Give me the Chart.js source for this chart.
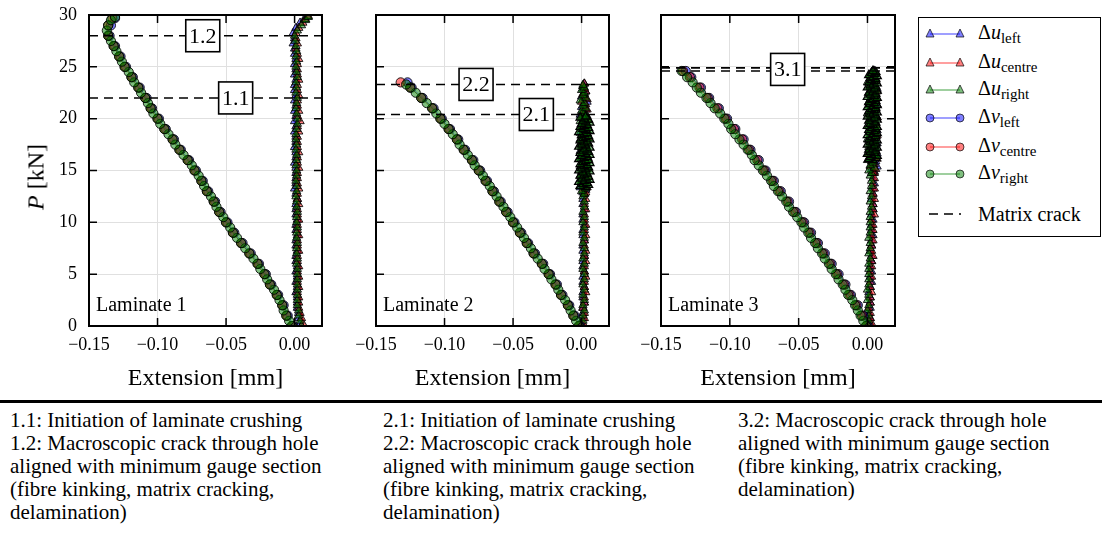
<!DOCTYPE html>
<html>
<head>
<meta charset="utf-8">
<script src="https://cdn.jsdelivr.net/npm/chart.js@4.4.0/dist/chart.umd.min.js"></script>
<style>
    body { margin: 0; background: #fff; width: 1102px; height: 535px; position: relative; overflow: hidden; font-family: 'Liberation Serif', 'DejaVu Serif', serif; color: #000; }
    .panel { position: absolute; top: 0; }
    #ylabel { position: absolute; left: 36px; top: 177px; transform: translate(-50%, -50%) rotate(-90deg); font-size: 24px; white-space: nowrap; }
    #legend { position: absolute; left: 918px; top: 17px; width: 181px; height: 218px; border: 1.5px solid #000; background: #fff; }
    #legend .row { position: absolute; left: 6px; height: 20px; display: flex; align-items: center; }
    #legend .row span { position: absolute; left: 53px; font-size: 20px; white-space: nowrap; }
    #legend sub { font-size: 15px; vertical-align: -4px; }
    #rule { position: absolute; left: 0; top: 400px; width: 1102px; height: 3px; background: #000; }
    .cap { position: absolute; top: 409px; font-size: 21px; line-height: 23px; white-space: nowrap; }
</style>
</head>
<body>
<canvas id="chart1" class="panel" width="330" height="400" style="left:0px"></canvas>
<canvas id="chart2" class="panel" width="280" height="400" style="left:340px"></canvas>
<canvas id="chart3" class="panel" width="280" height="400" style="left:625px"></canvas>
<div id="ylabel"><i>P</i> [kN]</div>
<div id="legend"></div>
<div id="rule"></div>
<div class="cap" style="left:10px">1.1: Initiation of laminate crushing<br>1.2: Macroscopic crack through hole<br>aligned with minimum gauge section<br>(fibre kinking, matrix cracking,<br>delamination)</div>
<div class="cap" style="left:383px">2.1: Initiation of laminate crushing<br>2.2: Macroscopic crack through hole<br>aligned with minimum gauge section<br>(fibre kinking, matrix cracking,<br>delamination)</div>
<div class="cap" style="left:738px">3.2: Macroscopic crack through hole<br>aligned with minimum gauge section<br>(fibre kinking, matrix cracking,<br>delamination)</div>

<script>
// Axis settings and tick labels
const X_MIN = -0.15;
const X_MAX = 0.02;
const Y_MIN = 0;
const Y_MAX = 30;
const xTicks = [-0.15, -0.10, -0.05, 0.00];
const yTicks = [0, 5, 10, 15, 20, 25, 30];

// ---- Laminate 1 ----
// load steps [kN]
const loads1 = [0, 0.5, 1, 1.5, 2, 2.5, 3, 3.5, 4, 4.5, 5, 5.5, 6, 6.5, 7, 7.5, 8, 8.5, 9, 9.5,
    10, 10.5, 11, 11.5, 12, 12.5, 13, 13.5, 14, 14.5, 15, 15.5, 16, 16.5, 17, 17.5, 18, 18.5, 19, 19.5,
    20, 20.5, 21, 21.5, 22, 22.5, 23, 23.5, 24, 24.5, 25, 25.5, 26, 26.5, 27, 27.5, 28, 28.5, 29, 29.5, 29.8];
const loads1B = [0.25, 0.75, 1.25, 1.75, 2.25, 2.75, 3.25, 3.75, 4.25, 4.75, 5.25, 5.75, 6.25, 6.75, 7.25, 7.75,
    8.25, 8.75, 9.25, 9.75, 10.25, 10.75, 11.25, 11.75, 12.25, 12.75, 13.25, 13.75, 14.25, 14.75, 15.25, 15.75,
    16.25, 16.75, 17.25, 17.75, 18.25, 18.75, 19.25, 19.75, 20.25, 20.75, 21.25, 21.75, 22.25, 22.75, 23.25, 23.75,
    24.25, 24.75, 25.25, 25.75, 26.25, 26.75, 27.25, 27.75, 28.25, 28.75, 29.25, 29.6, 29.9];
const loads1Coarse = [0, 1, 2, 3, 4, 5, 6, 7, 8, 9, 10, 11, 12, 13, 14, 15, 16, 17, 18, 19, 20,
    21, 22, 23, 24, 25, 26, 27, 28, 29, 29.7];
// extensions [mm]; uLeft/uCentre use loads1B, uRight uses loads1
const lam1ULeft = [0.004, 0.003, 0.003, 0.002, 0.002, 0.002, 0.001, 0.002, 0.001, 0.002,
    0.001, 0.002, 0.001, 0.001, 0.002, 0.001, 0.001, 0.002, 0.001, 0.001,
    0.002, 0.001, 0.001, 0.001, 0.002, 0.001, 0.000, 0.001, 0.001, 0.001,
    0.001, 0.000, 0.001, 0.001, 0.000, 0.001, 0.001, 0.000, 0.001, 0.000,
    0.001, 0.000, 0.001, 0.000, 0.001, 0.000, 0.000, 0.001, 0.000, 0.001,
    0.000, 0.001, 0.000, 0.000, -0.001, 0.000, -0.001, 0.001, 0.004, 0.007, 0.009];
const lam1UCentre = [0.006, 0.005, 0.004, 0.003, 0.003, 0.003, 0.002, 0.003, 0.002, 0.003,
    0.002, 0.003, 0.002, 0.002, 0.003, 0.002, 0.002, 0.003, 0.002, 0.002,
    0.003, 0.002, 0.002, 0.003, 0.002, 0.002, 0.003, 0.002, 0.002, 0.002,
    0.003, 0.002, 0.002, 0.003, 0.002, 0.002, 0.002, 0.003, 0.002, 0.004,
    0.002, 0.003, 0.002, 0.002, 0.003, 0.002, 0.002, 0.003, 0.002, 0.002,
    0.002, 0.003, 0.002, 0.001, 0.002, 0.001, 0.001, 0.003, 0.006, 0.008, 0.010];
const lam1URight = [0.005, 0.004, 0.003, 0.003, 0.002, 0.002, 0.002, 0.002, 0.002, 0.002,
    0.002, 0.002, 0.0015, 0.002, 0.0015, 0.0015, 0.002, 0.0015, 0.0015, 0.002,
    0.0015, 0.0015, 0.002, 0.0015, 0.0015, 0.001, 0.0015, 0.0015, 0.001, 0.0015,
    0.0015, 0.001, 0.0015, 0.0015, 0.001, 0.0015, 0.001, 0.001, 0.0015, 0.002,
    0.002, 0.0015, 0.001, 0.0015, 0.002, 0.001, 0.0015, 0.001, 0.002, 0.0015,
    0.001, 0.0015, 0.001, 0.0015, 0.001, 0.0005, 0.0, 0.002, 0.005, 0.008, 0.010];
// v series: left/centre use loads1Coarse, right uses loads1
const lam1VLeft = [-0.001, -0.005, -0.008, -0.012, -0.017, -0.021, -0.026, -0.032, -0.038, -0.044, -0.049, -0.054, -0.058, -0.063,
    -0.067, -0.072, -0.077, -0.083, -0.088, -0.094, -0.099, -0.104, -0.108, -0.113, -0.118, -0.123, -0.127, -0.131, -0.135, -0.134, -0.131];
const lam1VCentre = [-0.002, -0.006, -0.009, -0.013, -0.018, -0.022, -0.027, -0.033, -0.039, -0.045, -0.050, -0.055, -0.059, -0.064,
    -0.068, -0.073, -0.078, -0.084, -0.089, -0.095, -0.100, -0.105, -0.109, -0.114, -0.119, -0.124, -0.128, -0.132, -0.136, -0.136, -0.133];
const lam1VRight = [-0.002, -0.004, -0.006, -0.008, -0.009, -0.011, -0.013, -0.015, -0.018, -0.020,
    -0.022, -0.025, -0.027, -0.030, -0.033, -0.036, -0.039, -0.042, -0.045, -0.047,
    -0.050, -0.052, -0.055, -0.057, -0.059, -0.061, -0.064, -0.066, -0.068, -0.070,
    -0.073, -0.075, -0.078, -0.081, -0.084, -0.087, -0.089, -0.092, -0.095, -0.098,
    -0.100, -0.103, -0.105, -0.107, -0.109, -0.112, -0.114, -0.117, -0.119, -0.121,
    -0.124, -0.126, -0.128, -0.130, -0.132, -0.134, -0.136, -0.137, -0.136, -0.134, -0.131];
const lam1Cracks = [22, 28];
const lam1BoxLabels = ['1.1', '1.2'];
const lam1BoxX = [-0.043, -0.067];

// ---- Laminate 2 ----
const loads2U = [0, 0.5, 1, 1.5, 2, 2.5, 3, 3.5, 4, 4.5, 5, 5.5, 6, 6.5, 7, 7.5, 8, 8.5, 9, 9.5,
    10, 10.5, 11, 11.5, 12, 12.5, 12.75, 13, 13.25, 13.5, 13.75, 14, 14.25, 14.5, 14.75, 15, 15.25, 15.5, 15.75,
    16, 16.25, 16.5, 16.75, 17, 17.25, 17.5, 17.75, 18, 18.25, 18.5, 18.75, 19, 19.25, 19.5, 19.75,
    20, 20.25, 20.5, 20.75, 21, 21.25, 21.5, 21.75, 22, 22.25, 22.5, 22.75, 23, 23.25];
const loads2UB = [0.25, 0.75, 1.25, 1.75, 2.25, 2.75, 3.25, 3.75, 4.25, 4.75, 5.25, 5.75, 6.25, 6.75, 7.25, 7.75,
    8.25, 8.75, 9.25, 9.75, 10.25, 10.75, 11.25, 11.75, 12.25, 12.75,
    12.875, 13.125, 13.375, 13.625, 13.875, 14.125, 14.375, 14.625, 14.875, 15.125, 15.375, 15.625, 15.875,
    16.125, 16.375, 16.625, 16.875, 17.125, 17.375, 17.625, 17.875, 18.125, 18.375, 18.625, 18.875,
    19.125, 19.375, 19.625, 19.875, 20.125, 20.375, 20.625, 20.875, 21.125, 21.375, 21.625, 21.875,
    22.125, 22.375, 22.625, 22.875, 23.125, 23.375];
// extra readings while the load hovered between ~13 and ~20 kN
const loads2Plateau = [13.4, 13.5, 13.6, 13.7, 13.8, 13.9, 14.0, 14.1, 14.2, 14.3, 14.4, 14.5, 14.6, 14.7, 14.8, 14.9,
    15.0, 15.1, 15.2, 15.3, 15.4, 15.5, 15.6, 15.7, 15.8, 15.9, 16.0, 16.1, 16.2, 16.3, 16.4, 16.5, 16.6, 16.7, 16.8, 16.9,
    17.0, 17.1, 17.2, 17.3, 17.4, 17.5, 17.6, 17.7, 17.8, 17.9, 18.0, 18.1, 18.2, 18.3, 18.4, 18.5, 18.6, 18.7, 18.8, 18.9,
    19.0, 19.1, 19.2, 19.3, 19.4, 19.5, 19.6, 19.7, 19.8, 19.9, 20.0, 20.1, 20.2];
const loads2 = [0, 0.5, 1, 1.5, 2, 2.5, 3, 3.5, 4, 4.5, 5, 5.5, 6, 6.5, 7, 7.5, 8, 8.5, 9, 9.5,
    10, 10.5, 11, 11.5, 12, 12.5, 13, 13.5, 14, 14.5, 15, 15.5, 16, 16.5, 17, 17.5, 18, 18.5, 19, 19.5,
    20, 20.5, 21, 21.5, 22, 22.5, 23, 23.3];
const loads2Coarse = [0, 1, 2, 3, 4, 5, 6, 7, 8, 9, 10, 11, 12, 13, 14, 15, 16, 17, 18, 19, 20, 21, 22, 23, 23.5];
const lam2ULeft = [0.000, 0.001, 0.001, 0.001, 0.002, 0.001, 0.001, 0.002, 0.001, 0.001, 0.002, 0.001, 0.001,
    0.002, 0.001, 0.001, 0.002, 0.001, 0.001, 0.002, 0.001, 0.001, 0.002, 0.001, 0.001, 0.002,
    0.001, 0.003, -0.001, 0.002, 0.000, 0.004, 0.001, 0.003, 0.000, 0.002,
    -0.001, 0.003, 0.001, 0.000, 0.004, 0.002, -0.001, 0.001, 0.003, 0.000,
    0.002, 0.004, 0.001, -0.001, 0.002, 0.003, 0.000, 0.001, 0.004, 0.002,
    -0.001, 0.001, 0.003, 0.000, 0.002, 0.004, 0.001, 0.000, 0.002, 0.003,
    0.001, 0.001, 0.002];
const lam2UCentre = [0.001, 0.002, 0.002, 0.001, 0.002, 0.002, 0.003, 0.002, 0.002, 0.003, 0.002, 0.002, 0.003,
    0.002, 0.003, 0.002, 0.002, 0.003, 0.002, 0.003, 0.002, 0.002, 0.003, 0.002, 0.003, 0.002,
    0.003, 0.001, 0.004, 0.002, 0.000, 0.003, 0.005, 0.001, 0.002, 0.004,
    0.000, 0.003, 0.002, 0.005, 0.001, 0.003, 0.000, 0.004, 0.002, 0.001,
    0.003, 0.005, 0.000, 0.002, 0.004, 0.001, 0.003, 0.002, 0.005, 0.000,
    0.003, 0.001, 0.004, 0.002, 0.003, 0.000, 0.004, 0.002, 0.001, 0.003,
    0.002, 0.001, 0.002];
const lam2URight = [0.000, 0.001, 0.001, 0.002, 0.001, 0.002, 0.001, 0.002, 0.001, 0.002, 0.002, 0.001, 0.002,
    0.001, 0.002, 0.002, 0.001, 0.002, 0.001, 0.002, 0.001, 0.002, 0.001, 0.002, 0.002, 0.001,
    0.002, 0.000, 0.003, 0.001, 0.004, 0.000, 0.002, -0.001, 0.003, 0.001,
    0.004, 0.000, 0.002, 0.003, -0.001, 0.001, 0.004, 0.002, 0.000, 0.003,
    0.001, -0.001, 0.002, 0.004, 0.001, 0.000, 0.003, 0.002, -0.001, 0.001,
    0.004, 0.002, 0.000, 0.003, 0.001, 0.002, -0.001, 0.003, 0.001, 0.002,
    0.000, 0.002, 0.001];
const lam2UPlateau = [0.003, -0.001, 0.005, 0.001, 0.004, -0.002, 0.002, 0.006, 0.000, 0.003,
    0.005, -0.001, 0.002, 0.004, 0.001, 0.006, -0.002, 0.003, 0.000, 0.005,
    0.002, 0.004, -0.001, 0.006, 0.001, 0.003, 0.005, -0.002, 0.002, 0.004,
    0.000, 0.006, 0.003, -0.001, 0.005, 0.001, 0.004, 0.002, 0.006, -0.002,
    0.003, 0.000, 0.005, 0.002, 0.004, -0.001, 0.006, 0.001, 0.003, 0.005,
    0.000, 0.002, 0.004, -0.002, 0.006, 0.003, 0.001, 0.005, -0.001, 0.002,
    0.004, 0.000, 0.006, 0.003, 0.001, 0.005, 0.002, -0.001, 0.003];
const lam2VLeft = [-0.001, -0.005, -0.009, -0.014, -0.018, -0.023, -0.028, -0.034, -0.039, -0.044, -0.049, -0.054, -0.059,
    -0.064, -0.069, -0.074, -0.079, -0.085, -0.090, -0.096, -0.102, -0.108, -0.116, -0.124, -0.127];
const lam2VCentre = [-0.002, -0.006, -0.010, -0.015, -0.019, -0.024, -0.029, -0.035, -0.040, -0.045, -0.050, -0.055, -0.060,
    -0.065, -0.070, -0.075, -0.080, -0.086, -0.091, -0.097, -0.103, -0.109, -0.117, -0.125, -0.132];
const lam2VRight = [-0.002, -0.004, -0.006, -0.008, -0.010, -0.012, -0.015, -0.017, -0.019, -0.022,
    -0.024, -0.027, -0.029, -0.032, -0.035, -0.037, -0.040, -0.042, -0.045, -0.047,
    -0.050, -0.052, -0.055, -0.057, -0.060, -0.062, -0.065, -0.067, -0.070, -0.072,
    -0.075, -0.078, -0.080, -0.083, -0.086, -0.089, -0.091, -0.094, -0.097, -0.100,
    -0.103, -0.106, -0.109, -0.113, -0.117, -0.121, -0.125, -0.128];
const lam2Cracks = [20.4, 23.3];
const lam2BoxLabels = ['2.1', '2.2'];
const lam2BoxX = [-0.033, -0.077];

// ---- Laminate 3 ----
const loads3U = [0, 0.5, 1, 1.5, 2, 2.5, 3, 3.5, 4, 4.5, 5, 5.5, 6, 6.5, 7, 7.5, 8, 8.5, 9, 9.5,
    10, 10.5, 11, 11.5, 12, 12.5, 13, 13.5, 14, 14.5, 14.75, 15, 15.25, 15.5, 15.75,
    16, 16.25, 16.5, 16.75, 17, 17.25, 17.5, 17.75, 18, 18.25, 18.5, 18.75, 19, 19.25, 19.5, 19.75,
    20, 20.25, 20.5, 20.75, 21, 21.25, 21.5, 21.75, 22, 22.25, 22.5, 22.75, 23, 23.25, 23.5, 23.75, 24, 24.25, 24.5];
const loads3UB = [0.25, 0.75, 1.25, 1.75, 2.25, 2.75, 3.25, 3.75, 4.25, 4.75, 5.25, 5.75, 6.25, 6.75, 7.25, 7.75,
    8.25, 8.75, 9.25, 9.75, 10.25, 10.75, 11.25, 11.75, 12.25, 12.75, 13.25, 13.75, 14.25, 14.75,
    14.875, 15.125, 15.375, 15.625, 15.875, 16.125, 16.375, 16.625, 16.875, 17.125, 17.375, 17.625, 17.875,
    18.125, 18.375, 18.625, 18.875, 19.125, 19.375, 19.625, 19.875, 20.125, 20.375, 20.625, 20.875,
    21.125, 21.375, 21.625, 21.875, 22.125, 22.375, 22.625, 22.875, 23.125, 23.375, 23.625, 23.875,
    24.125, 24.375, 24.625];
// extra readings while the load hovered between ~16 and ~24.6 kN
const loads3Plateau = [16.0, 16.1, 16.2, 16.3, 16.4, 16.5, 16.6, 16.7, 16.8, 16.9, 17.0, 17.1, 17.2, 17.3, 17.4, 17.5,
    17.6, 17.7, 17.8, 17.9, 18.0, 18.1, 18.2, 18.3, 18.4, 18.5, 18.6, 18.7, 18.8, 18.9, 19.0, 19.1, 19.2, 19.3, 19.4, 19.5,
    19.6, 19.7, 19.8, 19.9, 20.0, 20.1, 20.2, 20.3, 20.4, 20.5, 20.6, 20.7, 20.8, 20.9, 21.0, 21.1, 21.2, 21.3, 21.4, 21.5,
    21.6, 21.7, 21.8, 21.9, 22.0, 22.1, 22.2, 22.3, 22.4, 22.5, 22.6, 22.7, 22.8, 22.9, 23.0, 23.1, 23.2, 23.3, 23.4, 23.5,
    23.6, 23.7, 23.8, 23.9, 24.0, 24.1, 24.2, 24.3, 24.4, 24.5, 24.6];
const loads3 = [0, 0.5, 1, 1.5, 2, 2.5, 3, 3.5, 4, 4.5, 5, 5.5, 6, 6.5, 7, 7.5, 8, 8.5, 9, 9.5,
    10, 10.5, 11, 11.5, 12, 12.5, 13, 13.5, 14, 14.5, 15, 15.5, 16, 16.5, 17, 17.5, 18, 18.5, 19, 19.5,
    20, 20.5, 21, 21.5, 22, 22.5, 23, 23.5, 24, 24.6];
const loads3Coarse = [0, 1, 2, 3, 4, 5, 6, 7, 8, 9, 10, 11, 12, 13, 14, 15, 16, 17, 18, 19, 20, 21, 22, 23, 24, 24.6];
const lam3ULeft = [0.002, 0.002, 0.001, 0.002, 0.002, 0.002, 0.001, 0.002, 0.003, 0.002,
    0.003, 0.002, 0.003, 0.003, 0.002, 0.003, 0.003, 0.004, 0.003, 0.003,
    0.004, 0.003, 0.004, 0.004, 0.003, 0.004, 0.004, 0.005, 0.004, 0.004,
    0.005, 0.003, 0.007, 0.004, 0.006, 0.002, 0.005, 0.007, 0.003, 0.006,
    0.004, 0.007, 0.005, 0.002, 0.006, 0.004, 0.007, 0.003, 0.005, 0.006,
    0.002, 0.007, 0.004, 0.005, 0.003, 0.006, 0.007, 0.004, 0.002, 0.005,
    0.006, 0.003, 0.007, 0.004, 0.005, 0.002, 0.006, 0.004, 0.006, 0.005];
const lam3UCentre = [0.003, 0.002, 0.002, 0.001, 0.002, 0.002, 0.003, 0.002, 0.002, 0.003,
    0.002, 0.003, 0.003, 0.004, 0.003, 0.003, 0.004, 0.003, 0.004, 0.004,
    0.003, 0.005, 0.004, 0.004, 0.005, 0.004, 0.005, 0.004, 0.005, 0.005,
    0.004, 0.006, 0.002, 0.005, 0.003, 0.007, 0.004, 0.001, 0.006, 0.005,
    0.003, 0.006, 0.002, 0.005, 0.007, 0.004, 0.001, 0.005, 0.006, 0.003,
    0.004, 0.007, 0.002, 0.005, 0.006, 0.003, 0.004, 0.001, 0.006, 0.005,
    0.003, 0.007, 0.004, 0.002, 0.005, 0.006, 0.003, 0.004, 0.005, 0.004];
const lam3URight = [0.002, 0.001, 0.001, 0.000, 0.001, 0.000, 0.001, 0.000, 0.001, 0.001,
    0.001, 0.001, 0.001, 0.002, 0.001, 0.002, 0.002, 0.001, 0.002, 0.002,
    0.002, 0.002, 0.002, 0.003, 0.002, 0.003, 0.002, 0.003, 0.003, 0.002,
    0.003, 0.001, 0.005, 0.002, 0.004, 0.000, 0.003, 0.006, 0.002, 0.004,
    0.001, 0.005, 0.003, 0.000, 0.004, 0.006, 0.002, 0.003, 0.001, 0.005,
    0.004, 0.002, 0.006, 0.000, 0.003, 0.005, 0.001, 0.004, 0.002, 0.006,
    0.003, 0.001, 0.005, 0.002, 0.004, 0.000, 0.003, 0.005, 0.002, 0.003];
const lam3UPlateau = [0.004, 0.001, 0.006, 0.002, 0.007, 0.003, 0.000, 0.005, 0.002, 0.006,
    0.001, 0.004, 0.007, 0.003, 0.005, 0.000, 0.006, 0.002, 0.004, 0.007,
    0.001, 0.005, 0.003, 0.006, 0.000, 0.004, 0.007, 0.002, 0.005, 0.001,
    0.006, 0.003, 0.007, 0.000, 0.004, 0.002, 0.006, 0.005, 0.001, 0.007,
    0.003, 0.005, 0.000, 0.006, 0.002, 0.004, 0.007, 0.001, 0.005, 0.003,
    0.006, 0.000, 0.004, 0.007, 0.002, 0.005, 0.001, 0.006, 0.003, 0.004,
    0.007, 0.000, 0.005, 0.002, 0.006, 0.001, 0.004, 0.007, 0.003, 0.005,
    0.000, 0.006, 0.002, 0.004, 0.007, 0.001, 0.005, 0.003, 0.006, 0.002,
    0.004, 0.007, 0.001, 0.005, 0.003, 0.006, 0.004];
const lam3VLeft = [0.000, -0.003, -0.007, -0.012, -0.016, -0.021, -0.026, -0.031, -0.036, -0.041, -0.046, -0.052, -0.057,
    -0.063, -0.068, -0.074, -0.079, -0.085, -0.090, -0.096, -0.102, -0.108, -0.115, -0.121, -0.128, -0.132];
const lam3VCentre = [-0.001, -0.004, -0.008, -0.013, -0.017, -0.022, -0.027, -0.032, -0.037, -0.042, -0.047, -0.053, -0.058,
    -0.064, -0.069, -0.075, -0.080, -0.086, -0.091, -0.097, -0.103, -0.109, -0.116, -0.122, -0.129, -0.134];
const lam3VRight = [-0.001, -0.003, -0.005, -0.007, -0.009, -0.011, -0.014, -0.016, -0.018, -0.021,
    -0.023, -0.026, -0.028, -0.031, -0.033, -0.036, -0.038, -0.041, -0.043, -0.046,
    -0.048, -0.051, -0.054, -0.057, -0.059, -0.062, -0.065, -0.068, -0.070, -0.073,
    -0.076, -0.079, -0.082, -0.084, -0.087, -0.090, -0.093, -0.096, -0.099, -0.101,
    -0.104, -0.107, -0.111, -0.114, -0.117, -0.121, -0.124, -0.127, -0.131, -0.135];
const lam3Cracks = [24.6, 24.9];
const lam3BoxLabels = ['3.1'];
const lam3BoxX = [-0.058];
const lam3BoxY = [24.75];

// Styles
const SERIF = "'Liberation Serif', 'DejaVu Serif', serif";
const BLUE = 'rgba(0, 0, 255, 0.5)';
const RED = 'rgba(255, 0, 0, 0.5)';
const GREEN = 'rgba(0, 128, 0, 0.5)';
const EDGE = 'rgba(0, 0, 0, 0.85)';
const GRID = '#e0e0e0';

const legendItems = [
    { sym: 'u', sub: 'left', color: BLUE, shape: 'triangle' },
    { sym: 'u', sub: 'centre', color: RED, shape: 'triangle' },
    { sym: 'u', sub: 'right', color: GREEN, shape: 'triangle' },
    { sym: 'v', sub: 'left', color: BLUE, shape: 'circle' },
    { sym: 'v', sub: 'centre', color: RED, shape: 'circle' },
    { sym: 'v', sub: 'right', color: GREEN, shape: 'circle' }
];
const legendRowsY = [6, 35, 62, 90, 119, 146, 186];

function points(xs, ys) {
    return xs.map((x, i) => ({ x: x, y: ys[i] }));
}

function series(data, color, shape, order) {
    return {
        data: data,
        showLine: true,
        borderColor: color,
        borderWidth: 1,
        pointStyle: shape,
        pointRadius: shape === 'triangle' ? 4.8 : 4.6,
        pointBackgroundColor: color,
        pointBorderColor: EDGE,
        pointBorderWidth: 1,
        order: order
    };
}

function crackLine(load) {
    return {
        data: [{ x: X_MIN, y: load }, { x: X_MAX, y: load }],
        showLine: true,
        borderColor: '#000',
        borderWidth: 1.6,
        borderDash: [9, 6],
        pointRadius: 0,
        order: 0
    };
}

function buildDatasets(p) {
    const sets = [
        series(points(p.uLeft, p.uLoadsB), BLUE, 'triangle', 6),
        series(points(p.uCentre, p.uLoadsB), RED, 'triangle', 5),
        series(points(p.uRight, p.uLoads), GREEN, 'triangle', 4),
        series(points(p.vLeft, p.coarse), BLUE, 'circle', 3),
        series(points(p.vCentre, p.coarse), RED, 'circle', 2),
        series(points(p.vRight, p.fine), GREEN, 'circle', 1),
        ...p.cracks.map(crackLine)
    ];
    if (p.plateau) {
        // dense readings of the right gauge, drawn above the sparser u markers
        const dense = series(points(p.plateau, p.plateauLoads), GREEN, 'triangle', 3.5);
        dense.pointBorderColor = '#000';
        dense.pointBorderWidth = 1.3;
        sets.push(dense);
    }
    return sets;
}

function formatTick(value) {
    const s = Math.abs(value).toFixed(2);
    return value < -1e-9 ? '\u2212' + s : s;
}

// Frame, inward ticks, numbered boxes and panel name
const decorPlugin = {
    id: 'decor',
    afterDraw(chart, args, opts) {
        const { ctx, chartArea: a, scales } = chart;
        const sx = scales.x, sy = scales.y;
        ctx.save();
        ctx.strokeStyle = '#000';
        ctx.lineWidth = 1.5;
        ctx.beginPath();
        yTicks.forEach(v => {
            const py = sy.getPixelForValue(v);
            ctx.moveTo(a.left, py); ctx.lineTo(a.left + 8, py);
            ctx.moveTo(a.right, py); ctx.lineTo(a.right - 8, py);
        });
        xTicks.forEach(v => {
            const px = sx.getPixelForValue(v);
            ctx.moveTo(px, a.top); ctx.lineTo(px, a.top + 8);
            ctx.moveTo(px, a.bottom); ctx.lineTo(px, a.bottom - 8);
        });
        ctx.stroke();

        ctx.lineWidth = 2;
        ctx.strokeRect(a.left, a.top, a.right - a.left, a.bottom - a.top);

        // numbered crack boxes
        ctx.font = '22px ' + SERIF;
        ctx.textAlign = 'center';
        ctx.textBaseline = 'middle';
        opts.labels.forEach((text, i) => {
            const cx = sx.getPixelForValue(opts.boxX[i]);
            const cy = sy.getPixelForValue(opts.boxY[i]);
            ctx.fillStyle = '#fff';
            ctx.fillRect(cx - 17, cy - 16, 34, 32);
            ctx.lineWidth = 1.6;
            ctx.strokeRect(cx - 17, cy - 16, 34, 32);
            ctx.fillStyle = '#000';
            ctx.fillText(text, cx, cy + 1);
        });

        ctx.font = '20px ' + SERIF;
        ctx.textAlign = 'left';
        ctx.textBaseline = 'alphabetic';
        ctx.fillText(opts.name, a.left + 7, a.bottom - 15);
        ctx.restore();
    }
};

function makeChart(canvasId, p) {
    return new Chart(document.getElementById(canvasId), {
        type: 'scatter',
        data: { datasets: buildDatasets(p) },
        options: {
            responsive: false,
            animation: false,
            layout: { padding: { top: 15, right: p.rightPad, left: 0, bottom: 0 } },
            plugins: {
                legend: { display: false },
                tooltip: { enabled: false },
                decor: { name: p.name, labels: p.labels, boxX: p.boxX, boxY: p.boxY }
            },
            scales: {
                x: {
                    type: 'linear',
                    min: X_MIN,
                    max: X_MAX,
                    afterBuildTicks: scale => { scale.ticks = xTicks.map(v => ({ value: v })); },
                    afterFit: scale => {
                        scale.height = 74;
                        scale.paddingLeft = 0;
                        scale.paddingRight = 0;
                    },
                    grid: { color: GRID, drawTicks: false },
                    border: { display: false },
                    ticks: {
                        color: '#000',
                        font: { family: SERIF, size: 18 },
                        padding: 8,
                        maxRotation: 0,
                        callback: formatTick
                    },
                    title: {
                        display: true,
                        text: 'Extension [mm]',
                        color: '#000',
                        font: { family: SERIF, size: 24 },
                        padding: { top: 0, bottom: 7 }
                    }
                },
                y: {
                    type: 'linear',
                    min: Y_MIN,
                    max: Y_MAX,
                    afterBuildTicks: scale => { scale.ticks = yTicks.map(v => ({ value: v })); },
                    afterFit: scale => {
                        scale.width = p.axisWidth;
                        scale.paddingTop = 0;
                        scale.paddingBottom = 0;
                    },
                    grid: { color: GRID, drawTicks: false },
                    border: { display: false },
                    ticks: {
                        display: p.showY,
                        color: '#000',
                        font: { family: SERIF, size: 18 },
                        padding: 12
                    }
                }
            }
        },
        plugins: [decorPlugin]
    });
}

function buildLegend() {
    const box = document.getElementById('legend');
    legendItems.forEach((item, i) => {
        const marker = item.shape === 'triangle'
            ? (cx) => `<polygon points="${cx - 4},13 ${cx + 4},13 ${cx},5" fill="${item.color}" stroke="${EDGE}" stroke-width="0.8"/>`
            : (cx) => `<circle cx="${cx}" cy="10" r="4" fill="${item.color}" stroke="${EDGE}" stroke-width="0.8"/>`;
        const row = document.createElement('div');
        row.className = 'row';
        row.style.top = legendRowsY[i] + 'px';
        row.innerHTML = `<svg width="40" height="20"><line x1="5" y1="10" x2="35" y2="10" stroke="${item.color}" stroke-width="1.5"/>${marker(5)}${marker(35)}</svg>` +
            `<span>\u0394<i>${item.sym}</i><sub>${item.sub}</sub></span>`;
        box.appendChild(row);
    });
    const crack = document.createElement('div');
    crack.className = 'row';
    crack.style.top = legendRowsY[6] + 'px';
    crack.innerHTML = '<svg width="40" height="20"><line x1="4" y1="10" x2="36" y2="10" stroke="#000" stroke-width="1.6" stroke-dasharray="9,6"/></svg><span>Matrix crack</span>';
    box.appendChild(crack);
}

makeChart('chart1', {
    name: 'Laminate 1', showY: true, axisWidth: 89, rightPad: 8,
    fine: loads1, coarse: loads1Coarse, uLoads: loads1, uLoadsB: loads1B,
    uLeft: lam1ULeft, uCentre: lam1UCentre, uRight: lam1URight,
    vLeft: lam1VLeft, vCentre: lam1VCentre, vRight: lam1VRight,
    cracks: lam1Cracks, labels: lam1BoxLabels, boxX: lam1BoxX, boxY: lam1Cracks
});
makeChart('chart2', {
    name: 'Laminate 2', showY: false, axisWidth: 36, rightPad: 11,
    fine: loads2, coarse: loads2Coarse, uLoads: loads2U, uLoadsB: loads2UB,
    plateau: lam2UPlateau, plateauLoads: loads2Plateau,
    uLeft: lam2ULeft, uCentre: lam2UCentre, uRight: lam2URight,
    vLeft: lam2VLeft, vCentre: lam2VCentre, vRight: lam2VRight,
    cracks: lam2Cracks, labels: lam2BoxLabels, boxX: lam2BoxX, boxY: lam2Cracks
});
makeChart('chart3', {
    name: 'Laminate 3', showY: false, axisWidth: 36, rightPad: 10,
    fine: loads3, coarse: loads3Coarse, uLoads: loads3U, uLoadsB: loads3UB,
    plateau: lam3UPlateau, plateauLoads: loads3Plateau,
    uLeft: lam3ULeft, uCentre: lam3UCentre, uRight: lam3URight,
    vLeft: lam3VLeft, vCentre: lam3VCentre, vRight: lam3VRight,
    cracks: lam3Cracks, labels: lam3BoxLabels, boxX: lam3BoxX, boxY: lam3BoxY
});
buildLegend();
</script>
</body>
</html>
